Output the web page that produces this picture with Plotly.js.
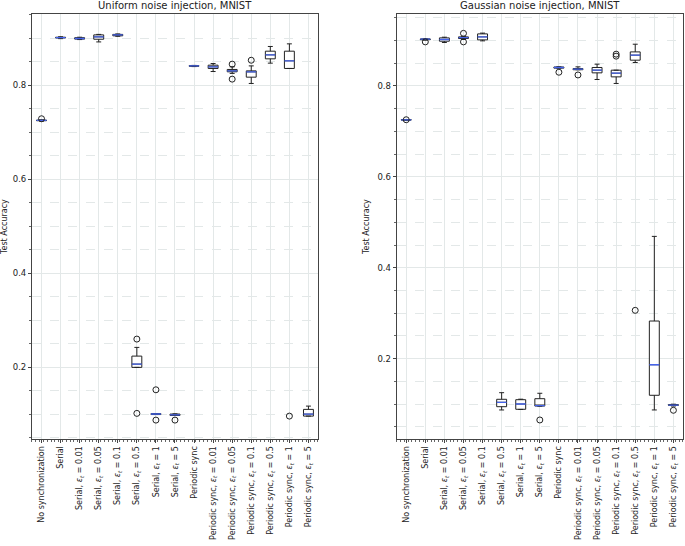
<!DOCTYPE html>
<html>
<head>
<meta charset="utf-8">
<script src="https://cdn.plot.ly/plotly-3.0.1.min.js"></script>
<style>html,body{margin:0;padding:0;background:#fff;}#chart{width:685px;height:546px;}</style>
</head>
<body>
<div id="chart"></div>
<script>
// Category labels
const categories = [
  "No synchronization",
  "Serial",
  "Serial, <i>ε<sub>t</sub></i> = 0.01",
  "Serial, <i>ε<sub>t</sub></i> = 0.05",
  "Serial, <i>ε<sub>t</sub></i> = 0.1",
  "Serial, <i>ε<sub>t</sub></i> = 0.5",
  "Serial, <i>ε<sub>t</sub></i> = 1",
  "Serial, <i>ε<sub>t</sub></i> = 5",
  "Periodic sync",
  "Periodic sync, <i>ε<sub>t</sub></i> = 0.01",
  "Periodic sync, <i>ε<sub>t</sub></i> = 0.05",
  "Periodic sync, <i>ε<sub>t</sub></i> = 0.1",
  "Periodic sync, <i>ε<sub>t</sub></i> = 0.5",
  "Periodic sync, <i>ε<sub>t</sub></i> = 1",
  "Periodic sync, <i>ε<sub>t</sub></i> = 5"
];
const positions = [0,1,2,3,4,5,6,7,8,9,10,11,12,13,14];

// Uniform noise injection, MNIST
const uniLow    = [0.7235,0.899,0.897,0.892,0.904,0.1994,0.099,0.097,0.8395,0.829,0.825,0.8036,0.8468,0.8355,0.0957];
const uniQ1     = [0.7243,0.9005,0.898,0.8977,0.905,0.1994,0.099,0.097,0.8403,0.8355,0.8284,0.817,0.856,0.8355,0.0957];
const uniMedian = [0.7249,0.9013,0.8993,0.9028,0.907,0.2064,0.1002,0.0985,0.841,0.839,0.8305,0.8283,0.8645,0.8517,0.100];
const uniQ3     = [0.7255,0.902,0.901,0.907,0.908,0.2234,0.101,0.100,0.8415,0.8425,0.8334,0.8304,0.8723,0.8723,0.110];
const uniHigh   = [0.7262,0.903,0.902,0.908,0.909,0.2419,0.101,0.1005,0.842,0.846,0.839,0.841,0.8823,0.8879,0.117];
const uniOutX   = [0,5,5,6,6,7,10,10,11,13];
const uniOutY   = [0.7285,0.2596,0.1015,0.1517,0.0872,0.0872,0.8447,0.8128,0.853,0.0957];

// Gaussian noise injection, MNIST
const gauLow    = [0.7245,0.9005,0.8954,0.902,0.899,0.0873,0.0885,0.0955,0.839,0.8355,0.814,0.8053,0.8514,0.0873,0.096];
const gauQ1     = [0.7248,0.9015,0.8982,0.9041,0.9011,0.0945,0.0888,0.096,0.839,0.8355,0.8286,0.8198,0.8565,0.1196,0.0975];
const gauMedian = [0.7253,0.9026,0.902,0.9063,0.9077,0.1042,0.1004,0.0967,0.8404,0.8367,0.8345,0.8279,0.8675,0.1868,0.098];
const gauQ3     = [0.7258,0.903,0.9055,0.9077,0.9143,0.1108,0.1099,0.1121,0.8415,0.838,0.8404,0.8345,0.8747,0.2829,0.099];
const gauHigh   = [0.726,0.9035,0.907,0.909,0.916,0.1253,0.111,0.124,0.842,0.8418,0.8477,0.8345,0.8916,0.469,0.100];
const gauOutX   = [0,1,3,3,7,8,9,11,11,12,14];
const gauOutY   = [0.7255,0.8967,0.9155,0.8967,0.0653,0.830,0.824,0.8697,0.8653,0.3064,0.0866];

const boxColor = "#222222";
const medColor = "rgb(70,100,235)";

function panel(xa, ya, low, q1, med, q3, high, ox, oy) {
  return [
    {
      type: "box", xaxis: xa, yaxis: ya, x: positions,
      q1: q1, median: med, q3: q3, lowerfence: low, upperfence: high,
      boxpoints: false, width: 0.52, whiskerwidth: 0.5,
      line: {color: boxColor, width: 1}, fillcolor: "rgba(255,255,255,1)",
      hoverinfo: "skip", showlegend: false
    },
    {
      type: "box", xaxis: xa, yaxis: ya, x: positions,
      q1: med, median: med, q3: med, lowerfence: med, upperfence: med,
      boxpoints: false, width: 0.52, whiskerwidth: 0,
      line: {color: medColor, width: 1.3}, fillcolor: "rgba(0,0,0,0)",
      hoverinfo: "skip", showlegend: false
    },
    {
      type: "scatter", mode: "markers", xaxis: xa, yaxis: ya, x: ox, y: oy,
      marker: {symbol: "circle-open", size: 6, color: boxColor, line: {width: 1, color: boxColor}},
      hoverinfo: "skip", showlegend: false
    }
  ];
}

const data = [].concat(
  panel("x", "y", uniLow, uniQ1, uniMedian, uniQ3, uniHigh, uniOutX, uniOutY),
  panel("x2", "y2", gauLow, gauQ1, gauMedian, gauQ3, gauHigh, gauOutX, gauOutY)
);

const font = {family: "DejaVu Sans, sans-serif", size: 8, color: "#222"};
const gridCol = "#e3e8e8";

function xaxis(domain, anchor) {
  return {
    domain: domain, anchor: anchor, range: [-0.5, 14.5],
    tickvals: positions, ticktext: categories, tickangle: -90,
    tickfont: {family: "DejaVu Sans, sans-serif", size: 8, color: "#222"},
    ticks: "outside", ticklen: 3, tickcolor: "#444",
    showgrid: true, gridcolor: gridCol, gridwidth: 1,
    showline: true, mirror: true, linecolor: "#444", linewidth: 1,
    zeroline: false,
    minor: {dtick: 0.2, tick0: -0.5, ticks: "outside", ticklen: 2, tickcolor: "#666", showgrid: false}
  };
}
function yaxis(domain, anchor, range) {
  return {
    domain: domain, anchor: anchor, range: range,
    tickvals: [0.2, 0.4, 0.6, 0.8], ticktext: ["0.2", "0.4", "0.6", "0.8"],
    tickfont: {family: "DejaVu Sans, sans-serif", size: 8.5, color: "#222"},
    ticks: "outside", ticklen: 3, tickcolor: "#444",
    showgrid: true, gridcolor: gridCol, gridwidth: 1,
    showline: true, mirror: true, linecolor: "#444", linewidth: 1,
    zeroline: false,
    title: {text: "Test Accuracy", font: {family: "DejaVu Sans, sans-serif", size: 8, color: "#222"}, standoff: 6},
    minor: {dtick: 0.05, tick0: 0, ticks: "outside", ticklen: 2, tickcolor: "#666", showgrid: true, gridcolor: gridCol, griddash: "dash", gridwidth: 1}
  };
}

const yDom = [0.196, 0.974];
const layout = {
  width: 685, height: 546,
  margin: {l: 0, r: 0, t: 0, b: 0},
  paper_bgcolor: "#fff", plot_bgcolor: "#fff",
  font: font,
  boxmode: "overlay",
  showlegend: false,
  xaxis: xaxis([0.0467, 0.4642], "y"),
  yaxis: yaxis(yDom, "x", [0.047, 0.951]),
  xaxis2: xaxis([0.5791, 0.997], "y2"),
  yaxis2: yaxis(yDom, "x2", [0.0235, 0.9576]),
  annotations: [
    {text: "Uniform noise injection, MNIST", xref: "paper", yref: "paper", x: 0.2555, y: 0.977, xanchor: "center", yanchor: "bottom", showarrow: false, font: {family: "DejaVu Sans, sans-serif", size: 10, color: "#222"}},
    {text: "Gaussian noise injection, MNIST", xref: "paper", yref: "paper", x: 0.788, y: 0.977, xanchor: "center", yanchor: "bottom", showarrow: false, font: {family: "DejaVu Sans, sans-serif", size: 10, color: "#222"}}
  ]
};

Plotly.newPlot("chart", data, layout, {displayModeBar: false, staticPlot: true});
</script>
</body>
</html>
